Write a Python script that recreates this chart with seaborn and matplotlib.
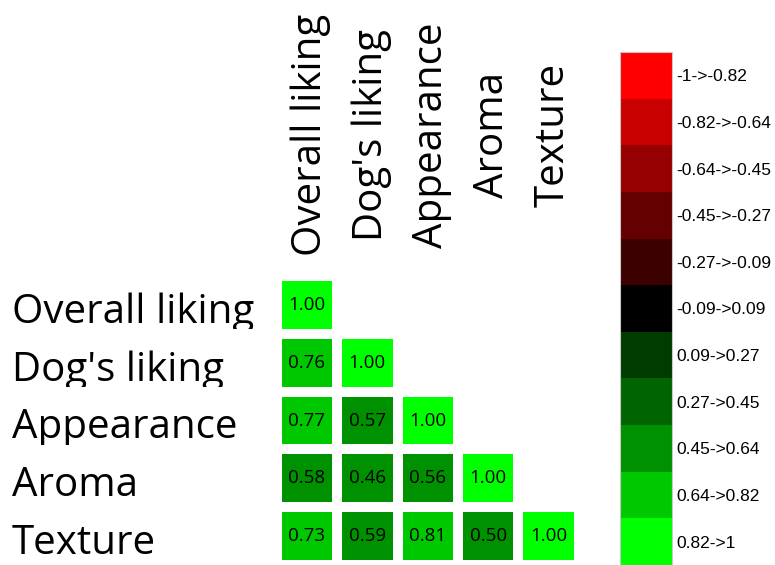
import numpy as np
import pandas as pd
import seaborn as sns
import matplotlib.pyplot as plt
from matplotlib.colors import ListedColormap, BoundaryNorm
from matplotlib.transforms import Bbox, blended_transform_factory

# Attributes of the sensory panel
attributes = ["Overall liking", "Dog's liking", "Appearance", "Aroma", "Texture"]

# Lower-triangle correlation coefficients, one list per row
row_overall = [1.00]
row_dog = [0.76, 1.00]
row_appearance = [0.77, 0.57, 1.00]
row_aroma = [0.58, 0.46, 0.56, 1.00]
row_texture = [0.73, 0.59, 0.81, 0.50, 1.00]

# Colour classes of the scale
class_bounds = [-1, -0.82, -0.64, -0.45, -0.27, -0.09, 0.09, 0.27, 0.45, 0.64, 0.82, 1]
class_labels = ["-1->-0.82", "-0.82->-0.64", "-0.64->-0.45", "-0.45->-0.27",
                "-0.27->-0.09", "-0.09->0.09", "0.09->0.27", "0.27->0.45",
                "0.45->0.64", "0.64->0.82", "0.82->1"]
class_colors = ["#ff0000", "#c80000", "#960000", "#640000", "#3c0000", "#000000",
                "#003c00", "#006400", "#009100", "#00c800", "#00ff00"]

sns.set_theme(style="white")
plt.rcParams["font.family"] = ["Open Sans", "DejaVu Sans"]

rows = [row_overall, row_dog, row_appearance, row_aroma, row_texture]
n = len(attributes)
mat = np.full((n, n), np.nan)
for i, r in enumerate(rows):
    mat[i, :len(r)] = r
    mat[:len(r), i] = r
corr = pd.DataFrame(mat, index=attributes, columns=attributes)
mask = np.triu(np.ones((n, n), dtype=bool), k=1)

cmap = ListedColormap(class_colors)
norm = BoundaryNorm(class_bounds, cmap.N)

fig = plt.figure(figsize=(7.75, 5.65), dpi=100)
ax = fig.add_axes([0.357, 0.0, 0.390, 0.5115])
cax = fig.add_axes([0.800, 0.0, 0.067, 0.908])

sns.heatmap(corr, mask=mask, cmap=cmap, norm=norm, annot=True, fmt=".2f",
            annot_kws={"color": "black", "fontsize": 13.5},
            linewidths=7.0, linecolor="white", square=False,
            cbar=True, cbar_ax=cax, cbar_kws={"spacing": "uniform"}, ax=ax)

ax.set_xticks([])
ax.set_yticks([])
ax.set_xlabel("")
ax.set_ylabel("")

# Row labels, left-aligned, each clipped to its own band
row_tf = blended_transform_factory(fig.transFigure, ax.transData)
for i, name in enumerate(attributes):
    t = fig.text(12 / 775, i + 0.5 + 0.31, name, transform=row_tf,
                 ha="left", va="baseline", fontsize=29, color="black")
    y_top = ax.transData.transform((0, i - 0.5))[1]
    y_bot = ax.transData.transform((0, i + 0.92))[1]
    t.set_clip_box(Bbox([[0, min(y_top, y_bot)], [fig.bbox.width, max(y_top, y_bot)]]))
    t.set_clip_on(True)

# Column labels, rotated and centred above each column
col_tf = blended_transform_factory(ax.transData, fig.transFigure)
for j, name in enumerate(attributes):
    fig.text(j + 0.5 + 0.07, 1 - 135 / 565, name, transform=col_tf,
             rotation=90, ha="center", va="center", fontsize=29, color="black")

# Scale with class ranges
cbar = ax.collections[0].colorbar
mids = [(a + b) / 2 for a, b in zip(class_bounds[:-1], class_bounds[1:])]
cbar.set_ticks(mids)
cbar.set_ticklabels(class_labels)
cax.minorticks_off()
cax.invert_yaxis()
cax.tick_params(which="both", length=0, pad=3)
for lbl in cax.get_yticklabels():
    lbl.set_fontfamily(["Liberation Sans", "DejaVu Sans"])
    lbl.set_fontsize(12.5)
    lbl.set_color("black")
cbar.outline.set_edgecolor("#c8c8c8")
cbar.outline.set_linewidth(0.8)

fig.savefig("out.png", dpi=100, facecolor="white")
